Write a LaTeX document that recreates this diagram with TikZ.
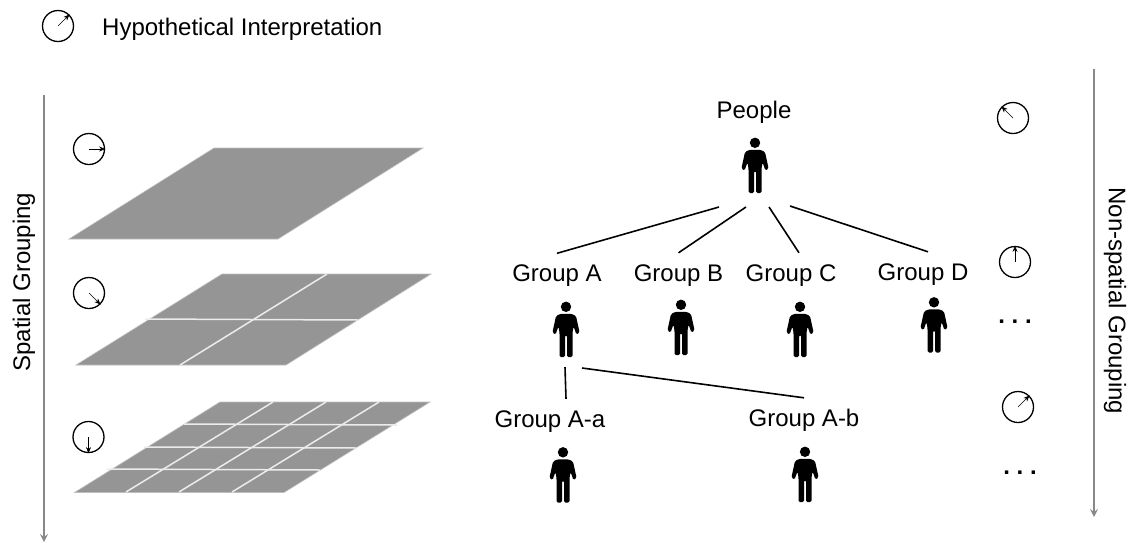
\documentclass[tikz,border=0pt]{standalone}
\usepackage{fontspec}
\setmainfont{Liberation Sans}
\usepackage{tikz}
\usetikzlibrary{arrows.meta}
\definecolor{planeFill}{RGB}{149, 149, 149}
\definecolor{planeEdge}{RGB}{190, 190, 190}
\definecolor{gridLine}{RGB}{236, 236, 236}
\definecolor{axisColor}{RGB}{136, 136, 136}
\tikzset{
    plane_face/.style={
        fill=planeFill,
        draw=planeEdge,
        line width=0.6pt
    },
    grid_line/.style={
        draw=gridLine,
        line width=1.5pt
    },
    axis_arrow/.style={
        -{Stealth[length=8pt,width=8pt,inset=3pt]},
        draw=axisColor,
        fill=axisColor,
        line width=1.4pt
    },
    clock_face/.style={
        circle,
        draw=black,
        line width=1.3pt,
        minimum size=31pt,
        inner sep=0pt
    },
    clock_hand/.style={
        -{Stealth[length=6pt,width=5pt]},
        draw=black,
        line width=0.5pt
    },
    txt_label/.style={
        font=\fontsize{24}{26}\selectfont,
        text=black,
        inner sep=0pt
    },
    group_label/.style={
        txt_label,
        text height=16pt,
        text depth=5pt,
        inner xsep=3pt,
        inner ysep=12pt
    },
    dots_label/.style={
        txt_label,
        font=\fontsize{24}{26}\selectfont\bfseries
    },
    tree_edge/.style={
        draw=black,
        line width=1.6pt
    },
    person/.style={
        minimum width=28pt,
        minimum height=56pt,
        inner sep=0pt,
        path picture={
            \fill[black] (0,-22.7) circle (5.2pt);
            \fill[black, rounded corners=1.5pt] (-5.5,-15.7) -- (5.5,-15.7) -- (10,-13.5) -- (13.6,3)
                -- (10.5,5.2) -- (7.6,-3) -- (6.5,3) -- (6.5,27.5) -- (1,27.5)
                -- (1,5.5) -- (-1,5.5) -- (-1,27.5) -- (-6.5,27.5) -- (-6.5,3)
                -- (-7.6,-3) -- (-10.5,5.2) -- (-13.6,3) -- (-10,-13.5) -- cycle;
        }
    }
}
\begin{document}
\begin{tikzpicture}[x=1pt,y=-1pt]
    \useasboundingbox (0,0) rectangle (1132,542);

    % legend
    \node[clock_face] (clock_legend) at (58,26) {};
    \draw[clock_hand] (clock_legend.center) -- (clock_legend.45);
    \node[txt_label, anchor=west] (legend_text) at (102,29) {Hypothetical Interpretation};

    % spatial side
    \coordinate (spatial_top) at (44,95);
    \coordinate (spatial_end) at (44,542);
    \draw[axis_arrow] (spatial_top) -- (spatial_end);
    \node[txt_label, rotate=90] (spatial_text) at (24,282) {Spatial Grouping};

    \fill[plane_face] (69,239) -- (214,148) -- (423,148) -- (278,239) -- cycle;

    \fill[plane_face] (76,365) -- (222,274) -- (431,274) -- (286,365) -- cycle;
    \draw[grid_line] (180,365) -- (327,274);
    \draw[grid_line] (145,319) -- (359,320);

    \fill[plane_face] (74.5,492.5) -- (220,402) -- (430,402) -- (284,492.5) -- cycle;
    \draw[grid_line] (126,492) -- (273,402);
    \draw[grid_line] (179,492) -- (326,402);
    \draw[grid_line] (232,492) -- (379,402);
    \draw[grid_line] (184,424) -- (397,425);
    \draw[grid_line] (144,447) -- (357,448);
    \draw[grid_line] (107,469) -- (320,470);

    \node[clock_face] (clock_s1) at (89,149) {};
    \draw[clock_hand] (clock_s1.center) -- (clock_s1.0);
    \node[clock_face] (clock_s2) at (89,293) {};
    \draw[clock_hand] (clock_s2.center) -- (clock_s2.-45);
    \node[clock_face] (clock_s3) at (88.5,437) {};
    \draw[clock_hand] (clock_s3.center) -- (clock_s3.-90);

    % people tree
    \node[txt_label] (people) at (754,112) {People};
    \node[person] (person_root) at (755,165.5) {};

    \coordinate (fan_a) at (719,207);
    \coordinate (fan_b) at (746,207);
    \coordinate (fan_c) at (769,207);
    \coordinate (fan_d) at (790,206);

    \node[group_label] (group_a) at (557,276) {Group A};
    \node[group_label] (group_b) at (678.5,275.5) {Group B};
    \node[group_label] (group_c) at (791,275.5) {Group C};
    \node[group_label] (group_d) at (923,274.5) {Group D};

    \node[person] (person_a) at (566,329.5) {};
    \node[person] (person_b) at (681,327.5) {};
    \node[person] (person_c) at (800,329.5) {};
    \node[person] (person_d) at (934,325) {};

    \draw[tree_edge] (fan_a) -- (group_a.north);
    \draw[tree_edge] (fan_b) -- (group_b.north);
    \draw[tree_edge] (fan_c) -- ([xshift=8pt]group_c.north);
    \draw[tree_edge] (fan_d) -- ([xshift=5pt]group_d.north);

    \node[group_label] (group_aa) at (550,421.5) {Group A-a};
    \node[group_label] (group_ab) at (804,420.5) {Group A-b};

    \node[person] (person_aa) at (563,475) {};
    \node[person] (person_ab) at (805,474.5) {};

    \coordinate (fan_aa) at (565,367);
    \coordinate (fan_ab) at (582,368);
    \draw[tree_edge] (fan_aa) -- ([xshift=16pt]group_aa.north);
    \draw[tree_edge] (fan_ab) -- (group_ab.north);

    % non-spatial side
    \node[clock_face] (clock_n1) at (1013,118) {};
    \draw[clock_hand] (clock_n1.center) -- (clock_n1.135);
    \node[clock_face] (clock_n2) at (1015,262) {};
    \draw[clock_hand] (clock_n2.center) -- (clock_n2.90);
    \node[dots_label] (dots_a) at (1015,322) {.\ .\ .};
    \node[clock_face] (clock_n3) at (1018,407) {};
    \draw[clock_hand] (clock_n3.center) -- (clock_n3.45);
    \node[dots_label] (dots_b) at (1020,473) {.\ .\ .};

    \coordinate (nonspatial_top) at (1094,69);
    \coordinate (nonspatial_end) at (1094,517);
    \draw[axis_arrow] (nonspatial_top) -- (nonspatial_end);
    \node[txt_label, rotate=-90] (nonspatial_text) at (1115,301) {Non-spatial Grouping};
\end{tikzpicture}
\end{document}
